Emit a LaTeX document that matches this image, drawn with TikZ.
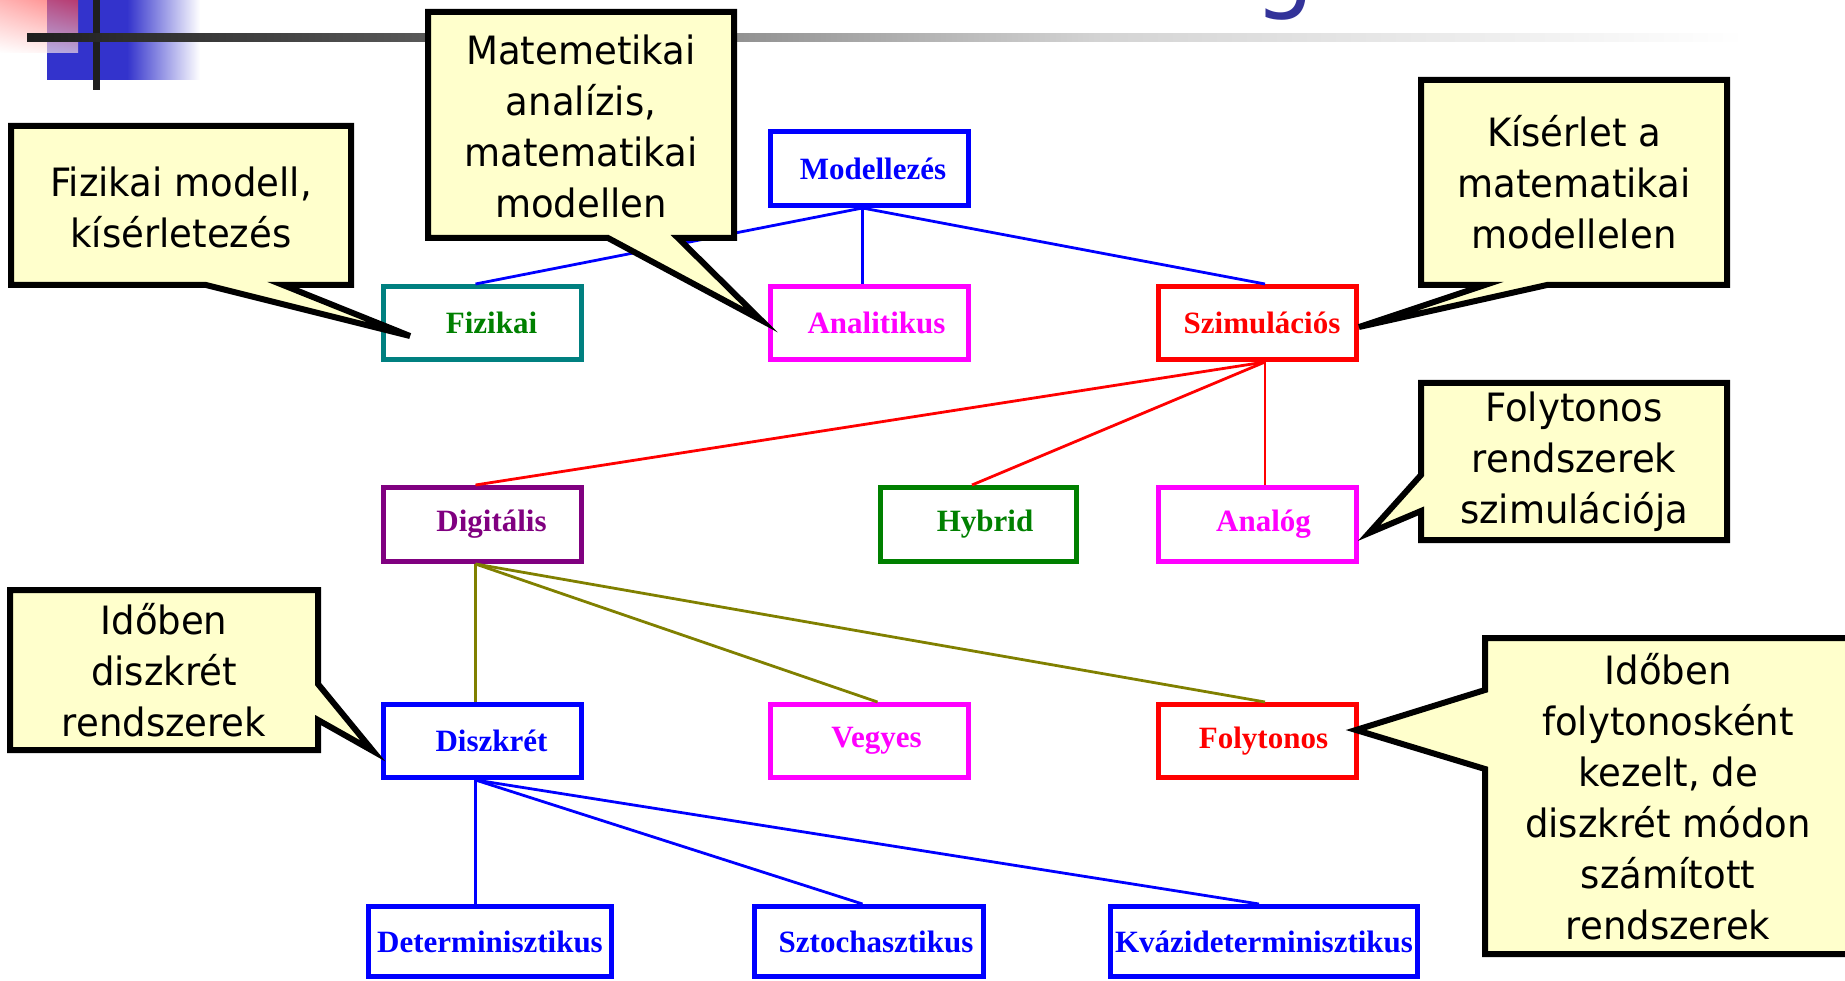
\documentclass[tikz,border=0pt]{standalone}
\usepackage{fontspec}
\usetikzlibrary{calc,shadings}
\newfontfamily\callfont{DejaVu Sans}[FakeStretch=0.95]
\newfontfamily\boxfont{Liberation Serif}
\definecolor{calloutfill}{HTML}{FFFFCC}
\definecolor{decoblue}{HTML}{3333CC}
\definecolor{titleblue}{HTML}{333399}
\definecolor{teal2}{HTML}{008080}
\definecolor{green2}{HTML}{008000}
\definecolor{purple2}{HTML}{800080}
\definecolor{olive2}{HTML}{808000}
\definecolor{magenta2}{HTML}{FF00FF}
\definecolor{blue2}{HTML}{0000FF}
\definecolor{red2}{HTML}{FF0000}
\tikzset{
 box/.style={draw, line width=5pt, minimum width=198pt, minimum height=73pt, inner sep=0pt,
   font=\boxfont\bfseries\fontsize{31}{36}\selectfont, fill=white},
 txshift/.style={execute at begin node={\hspace*{#1}}},
 link/.style={line width=2.8pt},
 callout/.style={fill=calloutfill, draw=black, line width=6pt, line join=miter},
 ctext/.style={align=center, font=\callfont\fontsize{39}{51}\selectfont, inner sep=0pt},
}
\begin{document}
\begin{tikzpicture}[x=1pt,y=-1pt]
\useasboundingbox (0,0) rectangle (1845,981);
\clip (0,0) rectangle (1845,981);
% decoration
\fill[decoblue] (47,0) rectangle (127,80);
\shade[left color=decoblue, right color=white] (127,0) rectangle (200,80);
\shade[upper right=red!75, upper left=red!45, lower left=white, lower right=red!10, opacity=0.65] (0,0) rectangle (78,53);
\fill[black!88] (93,0) rectangle (100,90);
\shade[left color=black!88, right color=black!65] (27,34) rectangle (430,42);
\shade[left color=black!65, right color=black!17] (430,34) rectangle (1100,42);
\shade[left color=black!17, right color=white] (1100,34) rectangle (1745,42);
\node[anchor=base, inner sep=0pt, text=titleblue, font=\callfont\fontsize{100}{100}\selectfont] (gtitle) at (1285,0) {g};
% boxes
\node[box, txshift=7pt, draw=blue2, text=blue2, minimum height=74pt] (mod) at (869.5,168.5) {Modellezés};
\node[box, txshift=18pt, draw=teal2, text=green2] (fiz) at (482.5,323) {Fizikai};
\node[box, txshift=14pt, draw=magenta2, text=magenta2] (ana) at (869.5,323) {Analitikus};
\node[box, txshift=10pt, draw=red2, text=red2] (szim) at (1257,323) {Szimulációs};
\node[box, txshift=18pt, draw=purple2, text=purple2, minimum height=74pt] (dig) at (482.5,524.5) {Digitális};
\node[box, txshift=13pt, draw=green2, text=green2, minimum height=74pt, minimum width=196pt] (hyb) at (978.5,524.5) {Hybrid};
\node[box, txshift=13pt, draw=magenta2, text=magenta2, minimum height=74pt] (anl) at (1257,524.5) {Analóg};
\node[box, txshift=18pt, draw=blue2, text=blue2] (disz) at (482.5,741) {Diszkrét};
\node[box, txshift=14pt, draw=magenta2, text=magenta2] (veg) at (869.5,741) {Vegyes};
\node[box, txshift=13pt, draw=red2, text=red2] (foly) at (1257,741) {Folytonos};
\node[box, draw=blue2, text=blue2, minimum width=243pt, minimum height=70pt] (det) at (490,941.5) {Determinisztikus};
\node[box, txshift=14pt, draw=blue2, text=blue2, minimum width=229pt, minimum height=70pt] (szt) at (869,941.5) {Sztochasztikus};
\node[box, draw=blue2, text=blue2, minimum width=307pt, minimum height=70pt] (kva) at (1264,941.5) {Kvázideterminisztikus};
% links
\draw[link, blue2] ($(mod.south)+(-7,0)$) -- ($(fiz.north)+(-7,0)$);
\draw[link, blue2] ($(mod.south)+(-7,0)$) -- ($(ana.north)+(-7,0)$);
\draw[link, blue2] ($(mod.south)+(-7,0)$) -- ($(szim.north)+(8,0)$);
\draw[link, red2] ($(szim.south)+(8,0)$) -- ($(dig.north)+(-7,0)$);
\draw[link, red2] ($(szim.south)+(8,0)$) -- ($(hyb.north)+(-6.5,0)$);
\draw[link, red2] ($(szim.south)+(8,0)$) -- ($(anl.north)+(8,0)$);
\draw[link, olive2] ($(dig.south)+(-7,0)$) -- ($(disz.north)+(-7,0)$);
\draw[link, olive2] ($(dig.south)+(-7,0)$) -- ($(veg.north)+(8,0)$);
\draw[link, olive2] ($(dig.south)+(-7,0)$) -- ($(foly.north)+(8,0)$);
\draw[link, blue2] ($(disz.south)+(-7,0)$) -- ($(det.north)+(-14.6,0)$);
\draw[link, blue2] ($(disz.south)+(-7,0)$) -- ($(szt.north)+(-6.5,0)$);
\draw[link, blue2] ($(disz.south)+(-7,0)$) -- ($(kva.north)+(-5,0)$);
% callouts
\coordinate (t1) at (410,336);
\coordinate (t2) at (761,320);
\coordinate (t3) at (1359,327);
\coordinate (t4) at (1369,533);
\coordinate (t5) at (373,751);
\coordinate (t6) at (1356,730);
\draw[callout] (11,126) -- (351,126) -- (351,285) -- (283,285) -- (t1) -- (206,285) -- (11,285) -- cycle;
\draw[callout] (428,12) -- (734,12) -- (734,238) -- (678,238) -- (t2) -- (608,238) -- (428,238) -- cycle;
\draw[callout] (1421,80) -- (1727,80) -- (1727,285) -- (1547,285) -- (t3) -- (1485,285) -- (1421,285) -- cycle;
\draw[callout] (1421,383) -- (1727,383) -- (1727,540) -- (1421,540) -- (1421,511) -- (t4) -- (1421,475) -- cycle;
\draw[callout] (10,590) -- (318,590) -- (318,684) -- (t5) -- (318,720) -- (318,750) -- (10,750) -- cycle;
\draw[callout] (1485,638) -- (1870,638) -- (1870,954) -- (1485,954) -- (1485,769) -- (t6) -- (1485,690) -- cycle;
\node[ctext] (c1) at (181,207) {Fizikai modell,\\kísérletezés};
\node[ctext] (c2) at (581,126) {Matemetikai\\analízis,\\matematikai\\modellen};
\node[ctext] (c3) at (1574,182) {Kísérlet a\\matematikai\\modellelen};
\node[ctext] (c4) at (1574,462) {Folytonos\\rendszerek\\szimulációja};
\node[ctext] (c5) at (164,670) {Időben\\diszkrét\\rendszerek};
\node[ctext] (c6) at (1668,797) {Időben\\folytonosként\\kezelt, de\\diszkrét módon\\számított\\rendszerek};
\end{tikzpicture}
\end{document}
